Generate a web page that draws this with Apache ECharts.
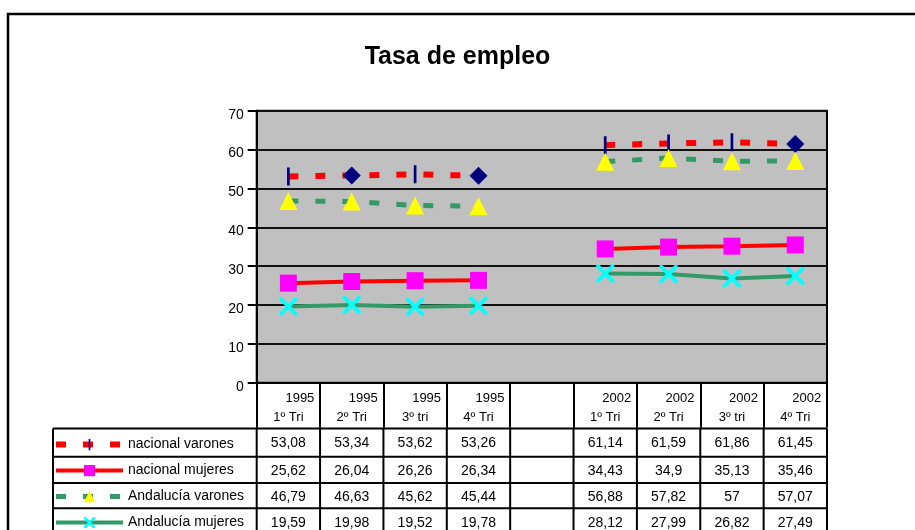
<!DOCTYPE html>
<html>
<head>
<meta charset="utf-8">
<script src="https://cdn.jsdelivr.net/npm/echarts@6/dist/echarts.min.js"></script>
<style>
html,body{margin:0;padding:0;background:#fff}
#chart{width:915px;height:530px}
</style>
</head>
<body>
<div id="chart"></div>
<script>
// categorías (la quinta columna va vacía, separa 1995 de 2002)
const years = ['1995', '1995', '1995', '1995', '', '2002', '2002', '2002', '2002']
const quarters = ['1º Tri', '2º Tri', '3º tri', '4º Tri', '', '1º Tri', '2º Tri', '3º tri', '4º Tri']

const nacionalVarones = [53.08, 53.34, 53.62, 53.26, null, 61.14, 61.59, 61.86, 61.45]
const nacionalMujeres = [25.62, 26.04, 26.26, 26.34, null, 34.43, 34.9, 35.13, 35.46]
const andaluciaVarones = [46.79, 46.63, 45.62, 45.44, null, 56.88, 57.82, 57, 57.07]
const andaluciaMujeres = [19.59, 19.98, 19.52, 19.78, null, 28.12, 27.99, 26.82, 27.49]

// puntos de "nacional varones" que llevan rombo en vez de raya
const diamondPoints = [1, 3, 8]

const FONT = 'Liberation Sans, Arial, sans-serif'
const barMark = 'path://M8.5,0h3v20h-3z M0,0h0.1v0.1h-0.1z M19.9,19.9h0.1v0.1h-0.1z'
const crossMark = 'path://M0,0L3,0L10,7L17,0L20,0L20,3L13,10L20,17L20,20L17,20L10,13L3,20L0,20L0,17L7,10L0,3Z'

const chart = echarts.init(document.getElementById('chart'))

const rows = [
	{ name: 'nacional varones', data: nacionalVarones },
	{ name: 'nacional mujeres', data: nacionalMujeres },
	{ name: 'Andalucía varones', data: andaluciaVarones },
	{ name: 'Andalucía mujeres', data: andaluciaMujeres }
]

chart.setOption({
	animation: false,
	textStyle: { fontFamily: FONT },
	title: {
		text: 'Tasa de empleo',
		left: 'center',
		top: 40,
		textStyle: { fontSize: 25, fontWeight: 'bold', color: '#000', fontFamily: FONT }
	},
	legend: {
		orient: 'vertical',
		left: 53,
		top: 437.6,
		padding: 0,
		itemWidth: 67,
		itemHeight: 14,
		itemGap: 12,
		lineStyle: { width: 'inherit' },
		textStyle: { fontSize: 14, color: '#000', fontFamily: FONT },
		data: rows.map(r => r.name)
	},
	grid: {
		left: 256.7,
		right: 88,
		top: 110.7,
		bottom: 147.3,
		show: true,
		backgroundColor: '#C0C0C0',
		borderColor: '#000',
		borderWidth: 2
	},
	xAxis: {
		type: 'category',
		data: years.map((y, i) => y ? '{y|' + y + '}\n{q|' + quarters[i] + '}' : ''),
		boundaryGap: true,
		axisLine: { show: true, lineStyle: { color: '#000', width: 2 } },
		axisTick: { show: true, length: 45, lineStyle: { color: '#000', width: 2 } },
		axisLabel: {
			margin: 6,
			interval: 0,
			color: '#000',
			rich: {
				y: { fontSize: 13, fontFamily: FONT, lineHeight: 19, padding: [0, 0, 0, 23] },
				q: { fontSize: 13, fontFamily: FONT, lineHeight: 19 }
			}
		}
	},
	yAxis: {
		type: 'value',
		min: 0,
		max: 70,
		interval: 10,
		axisLine: { show: true, lineStyle: { color: '#000', width: 2 } },
		axisTick: { show: true, length: 9, lineStyle: { color: '#000', width: 2 } },
		axisLabel: { fontSize: 14, color: '#000', margin: 13, verticalAlign: 'top', lineHeight: 8, fontFamily: FONT },
		splitLine: { show: true, lineStyle: { color: '#111', width: 2 } }
	},
	series: [
		{
			name: 'nacional varones',
			type: 'line',
			data: nacionalVarones.map((v, i) => diamondPoints.includes(i)
				? { value: v, symbol: 'diamond', symbolSize: 18 }
				: v),
			symbol: barMark,
			symbolSize: 18,
			itemStyle: { color: '#000080' },
			lineStyle: { color: '#FF0000', width: 6, type: [10, 17] }
		},
		{
			name: 'nacional mujeres',
			type: 'line',
			data: nacionalMujeres,
			symbol: 'rect',
			symbolSize: 17,
			itemStyle: { color: '#FF00FF' },
			lineStyle: { color: '#FF0000', width: 4 }
		},
		{
			name: 'Andalucía varones',
			type: 'line',
			data: andaluciaVarones,
			symbol: 'triangle',
			symbolSize: 18,
			itemStyle: { color: '#FFFF00' },
			lineStyle: { color: '#339966', width: 5, type: [10, 17] }
		},
		{
			name: 'Andalucía mujeres',
			type: 'line',
			data: andaluciaMujeres,
			symbol: crossMark,
			symbolSize: 18,
			itemStyle: { color: '#00FFFF' },
			lineStyle: { color: '#339966', width: 4 }
		}
	]
})

// tabla de datos bajo el eje
function fmt(v) {
	return String(v).replace('.', ',')
}

const centers = years.map((y, i) => chart.convertToPixel({ xAxisIndex: 0 }, i))
const band = centers[1] - centers[0]
const tableLeft = 53
const tableRight = centers[centers.length - 1] + band / 2
const rowLines = [428.5, 456.7, 483, 508.3, 535]

const graphic = []
graphic.push({
	type: 'rect',
	shape: { x: 8, y: 14, width: 920, height: 540 },
	style: { fill: 'none', stroke: '#000', lineWidth: 2.5 },
	silent: true
})
rowLines.forEach(y => {
	graphic.push({
		type: 'line',
		shape: { x1: tableLeft, y1: y, x2: tableRight, y2: y },
		style: { stroke: '#000', lineWidth: 2 }
	})
})
const vx = [tableLeft].concat(centers.map(c => c - band / 2), [tableRight])
vx.forEach(x => {
	graphic.push({
		type: 'line',
		shape: { x1: x, y1: rowLines[0], x2: x, y2: 540 },
		style: { stroke: '#000', lineWidth: 2 }
	})
})
rows.forEach((r, ri) => {
	const cy = (rowLines[ri] + rowLines[ri + 1]) / 2 + 1
	r.data.forEach((v, i) => {
		if (v === null) return
		graphic.push({
			type: 'text',
			x: centers[i],
			y: cy,
			style: {
				text: fmt(v),
				fill: '#000',
				font: '14px ' + FONT,
				textAlign: 'center',
				textVerticalAlign: 'middle',
				align: 'center',
				verticalAlign: 'middle'
			}
		})
	})
})

chart.setOption({ graphic: graphic })
</script>
</body>
</html>
